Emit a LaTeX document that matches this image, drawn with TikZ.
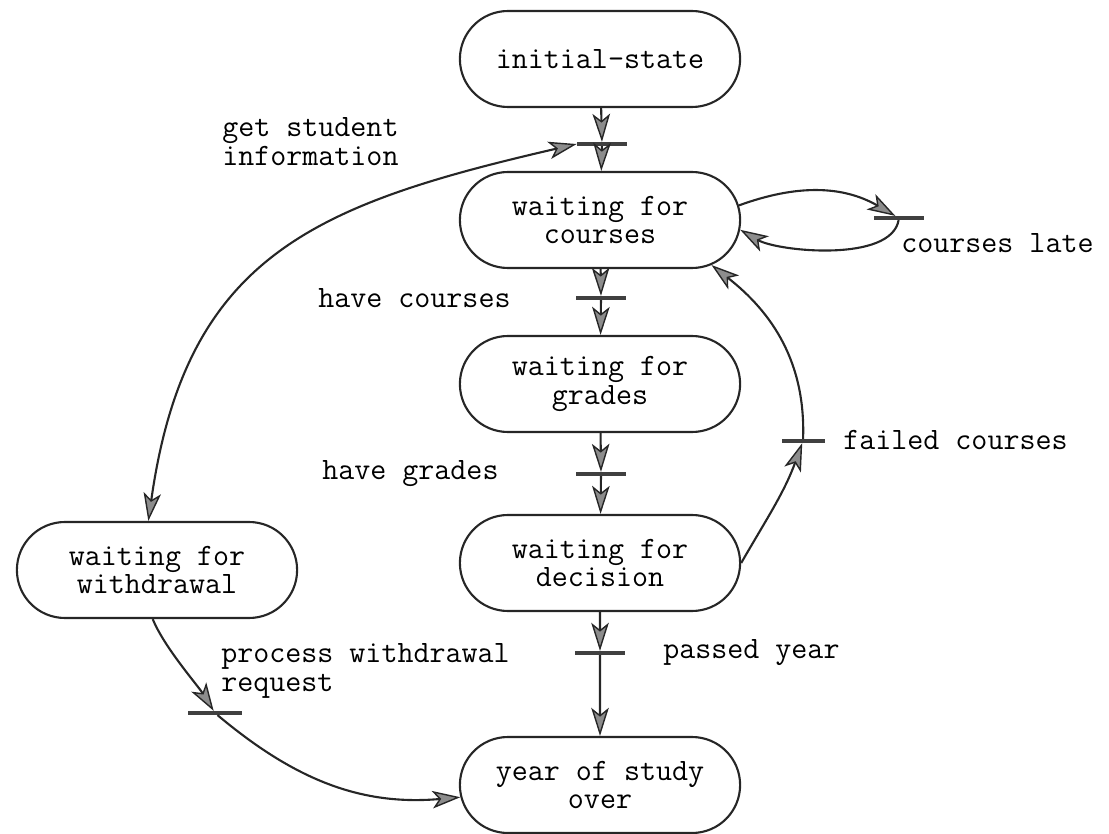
\documentclass[tikz,border=0pt]{standalone}
\usepackage{fontspec}
\usetikzlibrary{arrows.meta,shapes.misc}

\begin{document}
\begin{tikzpicture}[x=0.02cm, y=0.02cm,
    state/.style={draw=black!85, line width=1.2pt, rounded rectangle, minimum width=5.84cm,
                  minimum height=1.92cm, align=center, font=\ttfamily\fontsize{17.7}{16.5}\selectfont},
    bar/.style={rectangle, fill=black!75, minimum width=1cm, minimum height=0.07cm, inner sep=0pt},
    lbl/.style={anchor=west, align=left, inner sep=0pt, font=\ttfamily\fontsize{17.7}{16.5}\selectfont},
    flow/.style={draw=black!85, line width=1.2pt,
                 -{Stealth[length=16pt, width=10pt, inset=4pt, line width=0.8pt, fill=black!45]}},
    flowboth/.style={draw=black!85, line width=1.2pt,
                 {Stealth[length=16pt, width=10pt, inset=4pt, line width=0.8pt, fill=black!45]}-{Stealth[length=16pt, width=10pt, inset=4pt, line width=0.8pt, fill=black!45]}}]
  \useasboundingbox (0,0) rectangle (1109,-834);

  % states
  \node[state] (init) at (600,-59) {initial-state};
  \node[state] (wcourses) at (600,-220) {waiting for\\courses};
  \node[state] (wgrades) at (600,-384) {waiting for\\grades};
  \node[state] (wdecision) at (600,-563) {waiting for\\decision};
  \node[state] (over) at (600,-785) {year of study\\over};
  \node[state] (wwithdraw) at (157,-570) {waiting for\\withdrawal};

  % transitions
  \node[bar] (tget) at (602,-144) {};
  \node[bar] (thave) at (601,-298) {};
  \node[bar] (tgrades) at (601,-474) {};
  \node[bar] (tpassed) at (600,-653) {};
  \node[bar] (tlate) at (899,-218) {};
  \node[bar, minimum width=0.86cm] (tfailed) at (803,-441) {};
  \node[bar, minimum width=1.1cm] (tproc) at (215,-713) {};

  % labels
  \node[lbl] (lget) at (222,-142) {get student\\information};
  \node[lbl] (lhave) at (318,-298) {have courses};
  \node[lbl] (lgrades) at (322,-474) {have grades};
  \node[lbl] (llate) at (901,-243) {courses late};
  \node[lbl] (lfailed) at (843,-440) {failed courses};
  \node[lbl] (lpassed) at (663,-653) {passed year};
  \node[lbl] (lproc) at (221,-671) {process withdrawal\\request};

  % main line
  \draw[flow] (init) -- (tget);
  \draw[flow] (tget) -- (wcourses);
  \draw[flow] (wcourses) -- (thave);
  \draw[flow] (thave) -- (wgrades);
  \draw[flow] (wgrades) -- (tgrades);
  \draw[flow] (tgrades) -- (wdecision);
  \draw[flow] (wdecision) -- (tpassed);
  \draw[flow] (tpassed) -- (over);

  % side arcs
  \draw[flowboth] (wwithdraw.100) to[out=82, in=193, looseness=1.2] (tget.west);
  \draw[flow] (wcourses.6) to[out=20, in=150] (tlate);
  \draw[flow] (tlate) to[out=-100, in=-30, looseness=0.7] (wcourses.-4);
  \draw[flow] (wdecision.east) to[out=60, in=-110] (tfailed);
  \draw[flow] (tfailed) to[out=88, in=-38] (wcourses.-22);
  \draw[flow] (wwithdraw.-95) to[out=-68, in=122, looseness=0.7] (tproc);
  \draw[flow] (tproc) to[out=-40, in=185] (over);
\end{tikzpicture}
\end{document}
